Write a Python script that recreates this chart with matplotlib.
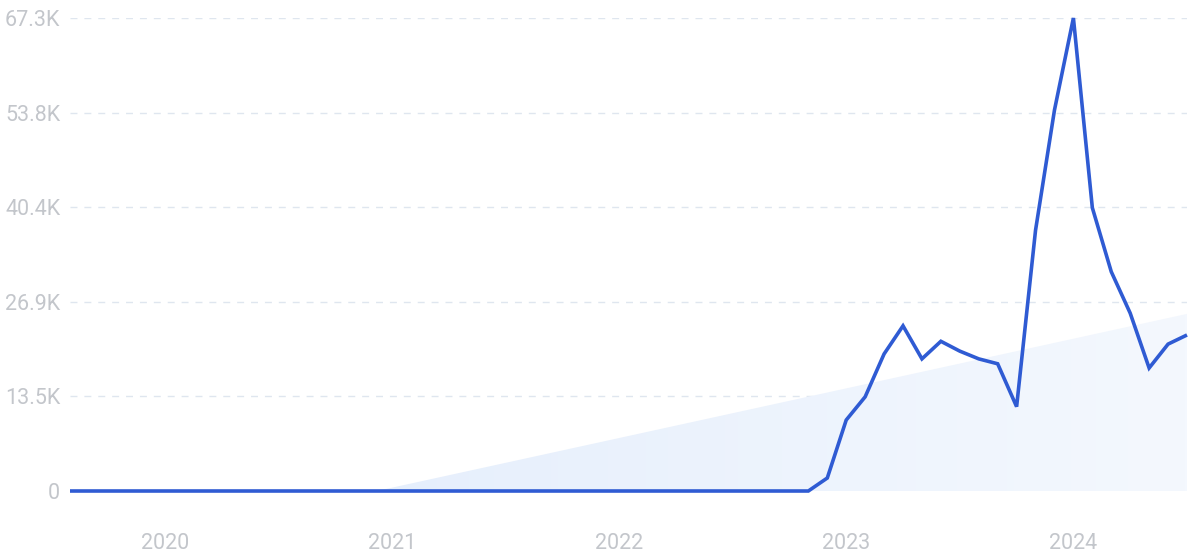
import matplotlib
matplotlib.use("Agg")
import matplotlib.pyplot as plt
import numpy as np
from matplotlib.patches import Polygon
from matplotlib.colors import LinearSegmentedColormap

plt.rcParams['font.family'] = ['Roboto', 'DejaVu Sans']

# Monthly values, Aug 2019 .. Jul 2024
values = [0] * 40 + [
    1850, 10100, 13400, 19500, 23500, 18800, 21300, 19900, 18800, 18100,
    12000, 37100, 54200, 67300, 40300, 31200, 25300, 17500, 20900, 22200,
]
year_labels = ["2020", "2021", "2022", "2023", "2024"]
year_idx = [5, 17, 29, 41, 53]
ytick_vals = [0, 13500, 26900, 40400, 53800, 67300]
ytick_labels = ["0", "13.5K", "26.9K", "40.4K", "53.8K", "67.3K"]
trend_x = [16.2, 59]
trend_y = [0, 25200]

fig = plt.figure(figsize=(12, 5.55), dpi=100)
ax = fig.add_axes([70/1200, (555-491)/555, (1187-70)/1200, (491-18)/555])

x = np.arange(len(values))
ax.set_xlim(0, len(values) - 1)
ax.set_ylim(0, 67300)

# trend area with soft gradient
poly = Polygon([(trend_x[0], trend_y[0]), (trend_x[1], trend_y[1]), (trend_x[1], 0)],
               closed=True, facecolor='none', edgecolor='none')
ax.add_patch(poly)
grad = np.linspace(0, 1, 256).reshape(1, -1)
cmap = LinearSegmentedColormap.from_list('g', ['#e6effc', '#f4f8fe'])
im = ax.imshow(grad, extent=[trend_x[0], trend_x[1], 0, trend_y[1]], aspect='auto',
               cmap=cmap, origin='lower', zorder=1)
im.set_clip_path(poly)

# gridlines
for v in ytick_vals[1:]:
    ax.axhline(v, color='#dfe6ef', lw=1, linestyle=(0, (5, 5)), zorder=0)
ax.axhline(0, color='#e3e6ea', lw=1.5, zorder=0)

ax.plot(x, values, color='#2f5bd3', lw=2.6, zorder=3, clip_on=False,
        solid_joinstyle='miter', solid_capstyle='butt')

ax.set_yticks(ytick_vals)
ax.set_yticklabels(ytick_labels)
ax.set_xticks(year_idx)
ax.set_xticklabels(year_labels)
ax.tick_params(axis='both', length=0, labelsize=15.5, colors='#c3c6cb')
ax.tick_params(axis='y', pad=7)
ax.tick_params(axis='x', pad=30)
for s in ax.spines.values():
    s.set_visible(False)

fig.savefig('out.png', dpi=100)
